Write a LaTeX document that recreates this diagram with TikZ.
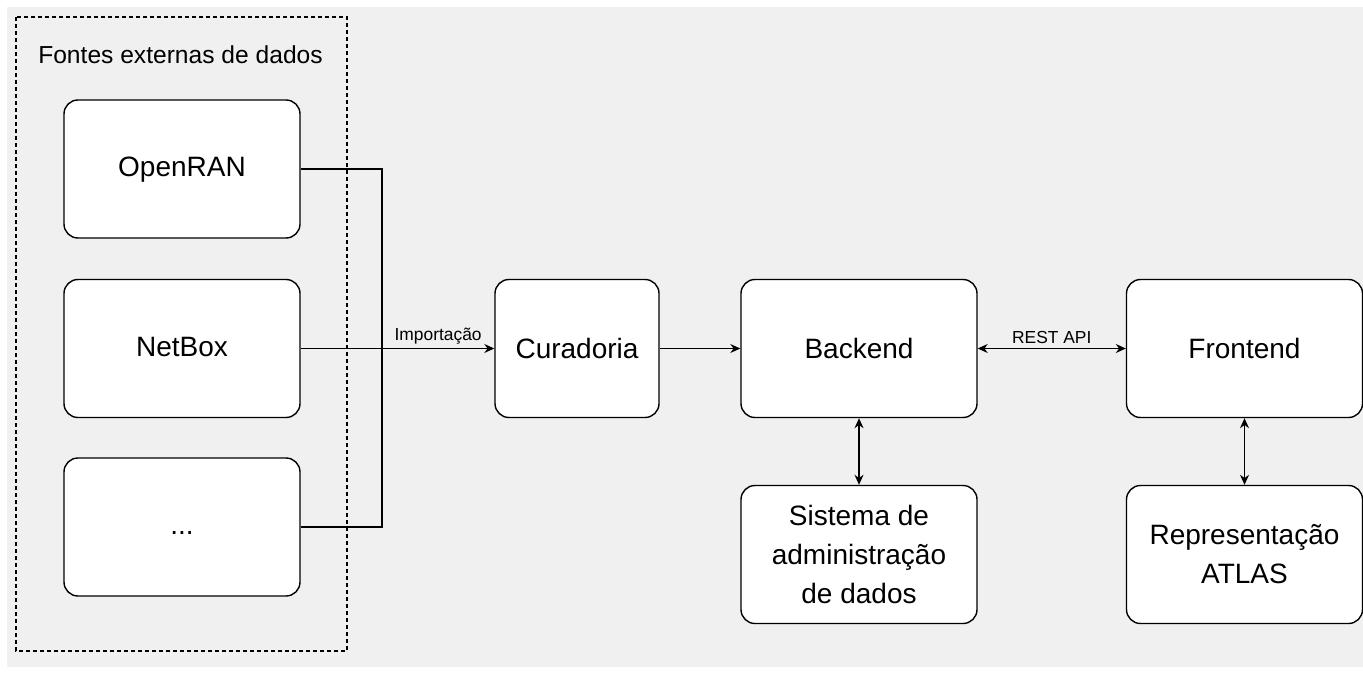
\documentclass[tikz,border=0pt]{standalone}
\usepackage{fontspec}
\setmainfont{Liberation Sans}
\usetikzlibrary{arrows.meta}
\definecolor{fundo}{HTML}{F0F0F0}

\begin{document}
\begin{tikzpicture}[
    x = 0.5pt, y = -0.5pt,
    line width = 0.7pt,
    bloco/.style = {draw, fill = white, rounded corners = 7pt, align = center,
      inner sep = 0pt, minimum width = 118pt, minimum height = 69pt,
      font = \fontsize{14}{19.5}\selectfont},
    rotulo/.style = {font = \fontsize{8.7}{10}\selectfont, inner sep = 2pt},
    seta/.style = {-{Stealth[length = 5pt, width = 4.5pt]}},
    seta dupla/.style = {{Stealth[length = 5pt, width = 4.5pt]}-{Stealth[length = 5pt, width = 4.5pt]}},
  ]
  \useasboundingbox (0,0) rectangle (1363,673);
  \fill [fundo] (7,7) rectangle (1363,667);

  \draw [dashed, dash pattern = on 2pt off 1.5pt] (16,17) rectangle (347,651);
  \node [font = \fontsize{12.3}{14}\selectfont] (titulo) at (180.5,55) {Fontes externas de dados};

  \foreach \nome/\texto/\y in {openran/OpenRAN/169, netbox/NetBox/348.5, reticencias/{.{}.{}.}/527} {
    \node [bloco] (\nome) at (182,\y) {\strut\texto};
  }

  \node [bloco, minimum width = 82pt] (curadoria) at (577,348.5) {Curadoria};
  \node [bloco] (backend) at (859,348.5) {Backend};
  \node [bloco] (frontend) at (1244.5,348.5) {Frontend};
  \node [bloco] (sistema) at (859,554.5) {Sistema de\\administração\\de dados};
  \node [bloco] (atlas) at (1244.5,554.5) {Representação\\ATLAS};

  \coordinate (juncao) at (382,348.5);

  \draw (openran.east) -| (juncao) |- (reticencias.east);
  \draw (netbox.east) -- (juncao);
  \draw [seta] (juncao) -- node [rotulo, above] {Importação} (curadoria.west);
  \draw [seta] (curadoria) -- (backend);
  \draw [seta dupla] (backend) -- node [rotulo, above] {REST API} (frontend);
  \draw [seta dupla] (backend) -- (sistema);
  \draw [seta dupla] (frontend) -- (atlas);
\end{tikzpicture}
\end{document}
